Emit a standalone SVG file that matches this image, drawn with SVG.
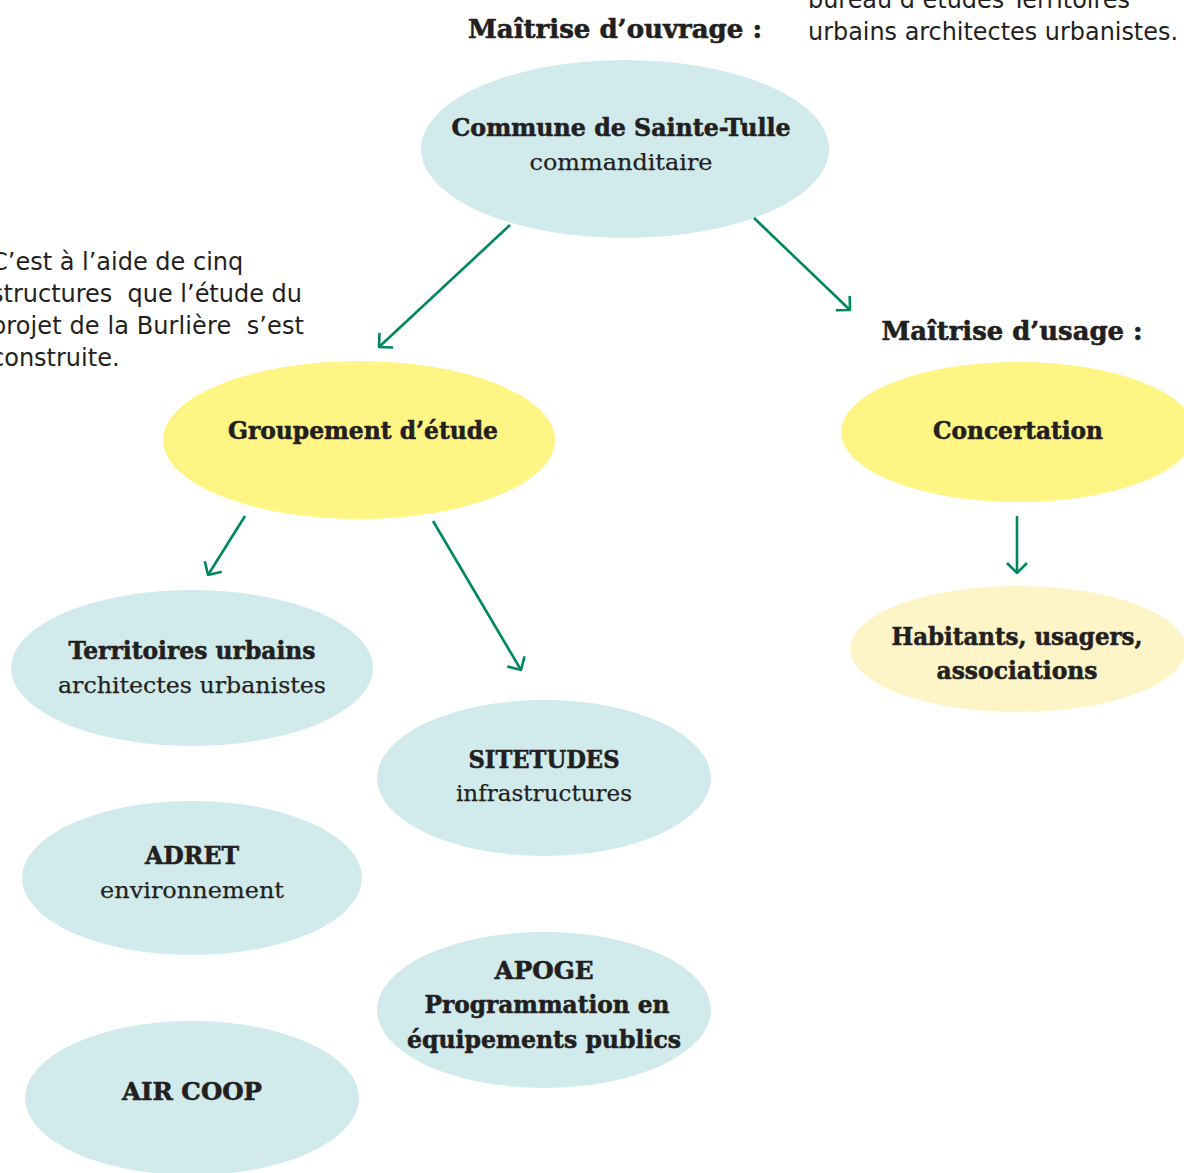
<svg xmlns="http://www.w3.org/2000/svg" width="1184" height="1173" viewBox="0 0 1184 1173">
<style>
.blue{fill:#d1ebec}
.yel{fill:#fff584}
.pale{fill:#fdf5c8}
.b{font-family:"DejaVu Serif","Liberation Serif",serif;font-weight:bold;fill:#231f20;stroke:#231f20;stroke-width:0.6;text-anchor:middle}
.r{font-family:"DejaVu Serif","Liberation Serif",serif;fill:#231f20;stroke:#231f20;stroke-width:0.25;text-anchor:middle}
.s{font-family:"DejaVu Sans","Verdana",sans-serif;fill:#231f20;font-size:24px;white-space:pre}
.conn line{stroke:#00875f;stroke-width:2.6;fill:none;marker-end:url(#ah)}
</style>
<defs>
<marker id="ah" viewBox="-1 -1 12 22" refX="10" refY="10" markerWidth="12" markerHeight="22" markerUnits="userSpaceOnUse" orient="auto">
<path d="M0,0 L10,10 L0,20" fill="none" stroke="#00875f" stroke-width="2.6"/>
</marker>
</defs>
<rect width="1184" height="1173" fill="#ffffff"/>

<g id="labels">
<text class="b" x="615" y="38" font-size="26" textLength="294" lengthAdjust="spacingAndGlyphs">Maîtrise d’ouvrage :</text>
<text class="s" x="808" y="8" textLength="322" lengthAdjust="spacingAndGlyphs">bureau d’études Territoires</text>
<text class="s" x="808" y="40" textLength="370" lengthAdjust="spacingAndGlyphs">urbains architectes urbanistes.</text>
<text class="b" x="1012" y="340" font-size="26" textLength="261" lengthAdjust="spacingAndGlyphs">Maîtrise d’usage :</text>
<text class="s" x="-9" y="270">C’est à l’aide de cinq</text>
<text class="s" x="-9" y="302" textLength="311" lengthAdjust="spacing">structures  que l’étude du</text>
<text class="s" x="-9" y="334" textLength="313" lengthAdjust="spacing">projet de la Burlière  s’est</text>
<text class="s" x="-9" y="366">construite.</text>
</g>

<g id="commune">
<ellipse class="blue" cx="625" cy="149" rx="204" ry="89"/>
<text class="b" x="621" y="136" font-size="25" textLength="339" lengthAdjust="spacingAndGlyphs">Commune de Sainte-Tulle</text>
<text class="r" x="621" y="170" font-size="23" textLength="183" lengthAdjust="spacingAndGlyphs">commanditaire</text>
</g>

<g id="groupement">
<ellipse class="yel" cx="359" cy="440" rx="196" ry="79"/>
<text class="b" x="363" y="439" font-size="25" textLength="270" lengthAdjust="spacingAndGlyphs">Groupement d’étude</text>
</g>

<g id="concertation">
<ellipse class="yel" cx="1018" cy="432" rx="177" ry="70"/>
<text class="b" x="1018" y="439" font-size="25" textLength="170" lengthAdjust="spacingAndGlyphs">Concertation</text>
</g>

<g id="habitants">
<ellipse class="pale" cx="1018" cy="649" rx="168" ry="63"/>
<text class="b" x="1017" y="645" font-size="25" textLength="251" lengthAdjust="spacingAndGlyphs">Habitants, usagers,</text>
<text class="b" x="1017" y="679" font-size="25" textLength="161" lengthAdjust="spacingAndGlyphs">associations</text>
</g>

<g id="territoires">
<ellipse class="blue" cx="192" cy="668" rx="181" ry="78"/>
<text class="b" x="192" y="659" font-size="25" textLength="247" lengthAdjust="spacingAndGlyphs">Territoires urbains</text>
<text class="r" x="192" y="693" font-size="23" textLength="268" lengthAdjust="spacingAndGlyphs">architectes urbanistes</text>
</g>

<g id="sitetudes">
<ellipse class="blue" cx="544" cy="778" rx="167" ry="78"/>
<text class="b" x="544" y="768" font-size="25" textLength="151" lengthAdjust="spacingAndGlyphs">SITETUDES</text>
<text class="r" x="544" y="801" font-size="23" textLength="176" lengthAdjust="spacingAndGlyphs">infrastructures</text>
</g>

<g id="adret">
<ellipse class="blue" cx="192" cy="878" rx="170" ry="77"/>
<text class="b" x="192" y="864" font-size="25" textLength="94" lengthAdjust="spacingAndGlyphs">ADRET</text>
<text class="r" x="192" y="898" font-size="23" textLength="184" lengthAdjust="spacingAndGlyphs">environnement</text>
</g>

<g id="apoge">
<ellipse class="blue" cx="544" cy="1010" rx="167" ry="78"/>
<text class="b" x="544" y="979" font-size="25" textLength="99" lengthAdjust="spacingAndGlyphs">APOGE</text>
<text class="b" x="547" y="1013" font-size="25" textLength="245" lengthAdjust="spacingAndGlyphs">Programmation en</text>
<text class="b" x="544" y="1048" font-size="25" textLength="274" lengthAdjust="spacingAndGlyphs">équipements publics</text>
</g>

<g id="aircoop">
<ellipse class="blue" cx="192" cy="1098" rx="167" ry="77"/>
<text class="b" x="192" y="1100" font-size="25" textLength="140" lengthAdjust="spacingAndGlyphs">AIR COOP</text>
</g>

<g id="connectors" class="conn">
<line x1="510" y1="225" x2="379" y2="347"/>
<line x1="754" y1="218" x2="850" y2="310"/>
<line x1="245" y1="516" x2="208" y2="575"/>
<line x1="433" y1="521" x2="521" y2="670"/>
<line x1="1017" y1="516" x2="1017" y2="573"/>
</g>
</svg>
